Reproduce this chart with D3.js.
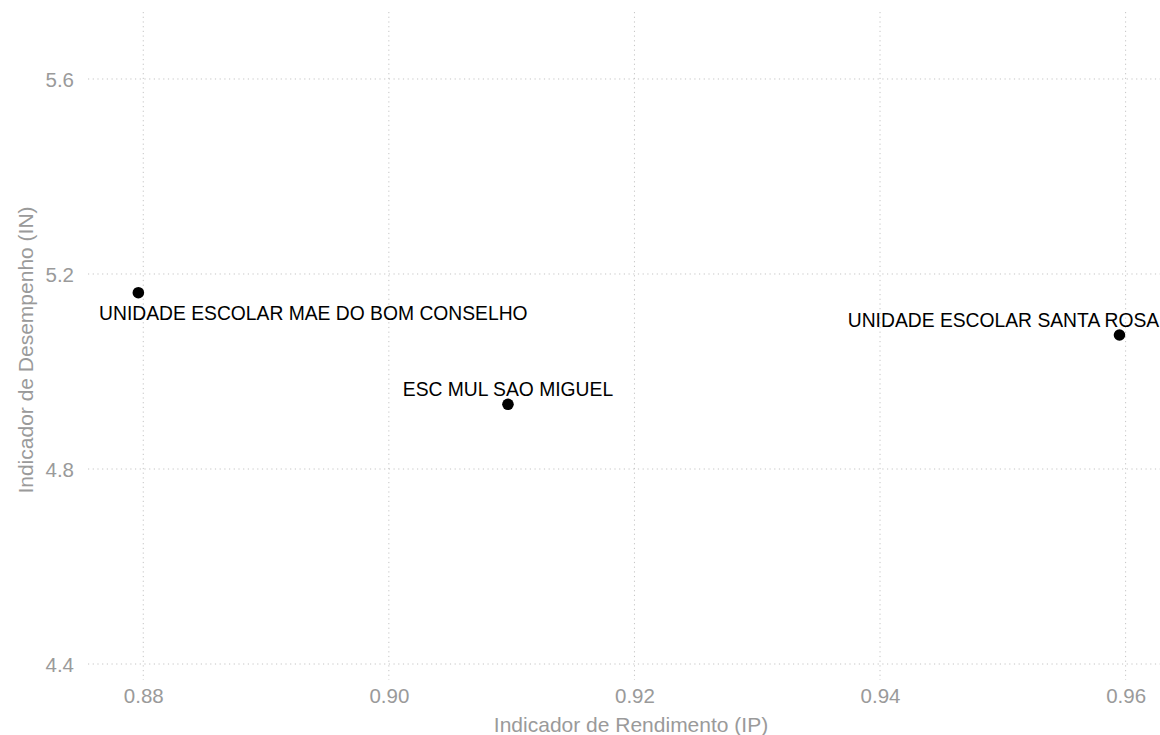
<!DOCTYPE html>
<html>
<head>
<meta charset="utf-8">
<script src="https://cdn.jsdelivr.net/npm/d3@7"></script>
<style>
  html, body { margin: 0; padding: 0; background: #fff; }
  svg text { font-family: "Liberation Sans", Arial, Helvetica, sans-serif; }
</style>
</head>
<body>
<svg id="chart" width="1160" height="735"></svg>
<script>
// ---- data ----
const schools = ["UNIDADE ESCOLAR MAE DO BOM CONSELHO", "ESC MUL SAO MIGUEL", "UNIDADE ESCOLAR SANTA ROSA"];
const ipValues = [0.8796, 0.9097, 0.9595];
const inValues = [5.1616, 4.9327, 5.0749];
const xTicks = [0.88, 0.90, 0.92, 0.94, 0.96];
const yTicks = [4.4, 4.8, 5.2, 5.6];
const xTitle = "Indicador de Rendimento (IP)";
const yTitle = "Indicador de Desempenho (IN)";

// ---- layout ----
const panel = { left: 88, right: 1160, top: 12, bottom: 680 };
const labelOffsets = [[175, 27.3], [0, -8.3], [-116, -8.3]];

const svg = d3.select("#chart");
const x = d3.scaleLinear().domain([0.8755, 0.9628]).range([panel.left, panel.right]);
const y = d3.scaleLinear().domain([4.3672, 5.7374]).range([panel.bottom, panel.top]);

const gridColor = "#c4c4c4";
const textGrey = "#9a9a9a";

// gridlines
svg.append("g").selectAll("line").data(xTicks).join("line")
  .attr("x1", d => x(d)).attr("x2", d => x(d))
  .attr("y1", panel.top).attr("y2", panel.bottom)
  .attr("stroke", gridColor).attr("stroke-width", 1).attr("stroke-dasharray", "1.2,3.5");
svg.append("g").selectAll("line").data(yTicks).join("line")
  .attr("x1", panel.left).attr("x2", panel.right)
  .attr("y1", d => y(d)).attr("y2", d => y(d))
  .attr("stroke", gridColor).attr("stroke-width", 1).attr("stroke-dasharray", "1.2,3.5");

// x axis ticks (no lines)
const xAxis = d3.axisBottom(x).tickValues(xTicks).tickFormat(d3.format(".2f")).tickSize(0).tickPadding(0);
const gx = svg.append("g").attr("transform", `translate(0,${panel.bottom})`).call(xAxis);
gx.select(".domain").remove();
gx.selectAll("text").attr("dy", null).attr("y", 22.5).attr("font-size", 20.5).attr("fill", textGrey)
  .attr("font-family", "'Liberation Sans', Arial, sans-serif");

const yAxis = d3.axisLeft(y).tickValues(yTicks).tickFormat(d3.format(".1f")).tickSize(0).tickPadding(0);
const gy = svg.append("g").attr("transform", `translate(74,0)`).call(yAxis);
gy.select(".domain").remove();
gy.selectAll("text").attr("x", 0).attr("dy", "0.36em").attr("font-size", 20.5).attr("fill", textGrey)
  .attr("font-family", "'Liberation Sans', Arial, sans-serif");

// axis titles
svg.append("text").attr("x", 631).attr("y", 731.5).attr("text-anchor", "middle")
  .attr("font-size", 21).attr("fill", textGrey).text(xTitle);
svg.append("text").attr("transform", "translate(33,350) rotate(-90)").attr("text-anchor", "middle")
  .attr("font-size", 21).attr("fill", textGrey).text(yTitle);

// points
const data = schools.map((s, i) => ({ name: s, ip: ipValues[i], in: inValues[i], off: labelOffsets[i] }));
svg.append("g").selectAll("circle").data(data).join("circle")
  .attr("cx", d => x(d.ip)).attr("cy", d => y(d.in)).attr("r", 5.8).attr("fill", "#000");

// labels
svg.append("g").selectAll("text").data(data).join("text")
  .attr("x", d => x(d.ip) + d.off[0]).attr("y", d => y(d.in) + d.off[1])
  .attr("text-anchor", "middle").attr("font-size", 19.3).attr("fill", "#000")
  .text(d => d.name);
</script>
</body>
</html>
